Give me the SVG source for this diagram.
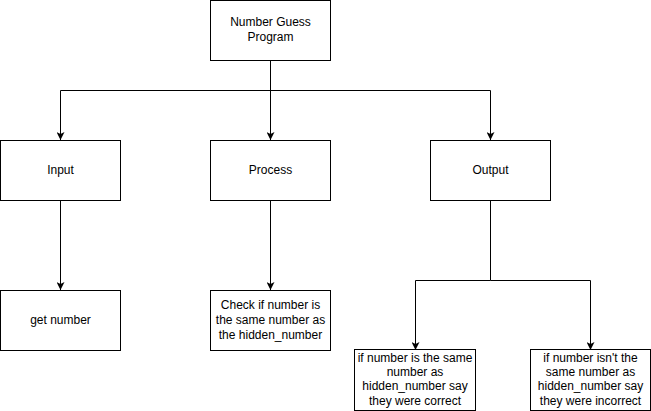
<svg xmlns="http://www.w3.org/2000/svg" width="651" height="411" viewBox="0 0 651 411">
<style>
.box{fill:#fff;stroke:#000;stroke-width:1}
.t{font-family:"Liberation Sans",Arial,sans-serif;font-size:12px;fill:#000;text-anchor:middle}
.c{fill:none;stroke:#000;stroke-width:1}
</style>
<defs>
<marker id="a" viewBox="0 0 10 10" refX="10" refY="5" markerWidth="8" markerHeight="8" markerUnits="userSpaceOnUse" orient="auto">
<path d="M0,0 L10,5 L0,10 L2.5,5 Z" fill="#000"/>
</marker>
</defs>
<rect width="651" height="411" fill="#fff"/>
<g id="connectors">
<path class="c" d="M270.5,60.5 V140" marker-end="url(#a)"/>
<path class="c" d="M270.5,90.5 H60.5 V140" marker-end="url(#a)"/>
<path class="c" d="M270.5,90.5 H490.5 V140" marker-end="url(#a)"/>
<path class="c" d="M60.5,200.5 V290" marker-end="url(#a)"/>
<path class="c" d="M270.5,200.5 V290" marker-end="url(#a)"/>
<path class="c" d="M490.5,200.5 V280.5 H415.5 V350" marker-end="url(#a)"/>
<path class="c" d="M490.5,280.5 H590.5 V350" marker-end="url(#a)"/>
</g>
<g id="top"><rect class="box" x="210.5" y="0.5" width="120" height="60"/><text class="t" x="270.5" y="26">Number Guess</text><text class="t" x="270.5" y="41">Program</text></g>
<g id="input"><rect class="box" x="0.5" y="140.5" width="120" height="60"/><text class="t" x="60.5" y="174">Input</text></g>
<g id="process"><rect class="box" x="210.5" y="140.5" width="120" height="60"/><text class="t" x="270.5" y="174">Process</text></g>
<g id="output"><rect class="box" x="430.5" y="140.5" width="120" height="60"/><text class="t" x="490.5" y="174">Output</text></g>
<g id="get"><rect class="box" x="0.5" y="290.5" width="120" height="60"/><text class="t" x="60.5" y="324">get number</text></g>
<g id="check"><rect class="box" x="210.5" y="290.5" width="120" height="60"/><text class="t" x="270.5" y="309">Check if number is</text><text class="t" x="270.5" y="324">the same number as</text><text class="t" x="270.5" y="339">the hidden_number</text></g>
<g id="correct"><rect class="box" x="354.5" y="349.5" width="121" height="61"/><text class="t" x="415" y="361.5">if number is the same</text><text class="t" x="415" y="375.5">number as</text><text class="t" x="415" y="389.5">hidden_number say</text><text class="t" x="415" y="404.5">they were correct</text></g>
<g id="incorrect"><rect class="box" x="530.5" y="349.5" width="120" height="61"/><text class="t" x="590.5" y="361.5">if number isn't the</text><text class="t" x="590.5" y="375.5">same number as</text><text class="t" x="590.5" y="389.5">hidden_number say</text><text class="t" x="590.5" y="404.5">they were incorrect</text></g>
</svg>
